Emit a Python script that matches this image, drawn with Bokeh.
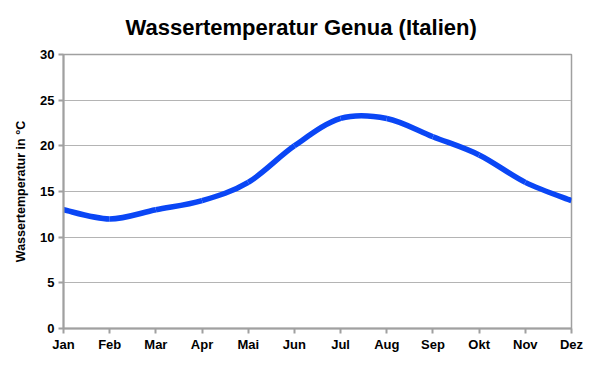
from bokeh.plotting import figure
from bokeh.models import Range1d, FixedTicker
from bokeh.embed import file_html
from bokeh.resources import INLINE

months = ["Jan", "Feb", "Mar", "Apr", "Mai", "Jun", "Jul", "Aug", "Sep", "Okt", "Nov", "Dez"]
temps = [13, 12, 13, 14, 16, 20, 23, 23, 21, 19, 16, 14]
y_ticks = [0, 5, 10, 15, 20, 25, 30]

xs = list(range(len(months)))

# smooth (Excel-like) curve through the data points as cubic Bezier segments
n = len(temps)
x0, y0, x1, y1, cx0, cy0, cx1, cy1 = [], [], [], [], [], [], [], []
t = 1.0 / 6.0
for i in range(n - 1):
    xp = xs[i - 1] if i > 0 else xs[i]
    yp = temps[i - 1] if i > 0 else temps[i]
    xn2 = xs[i + 2] if i + 2 < n else xs[i + 1]
    yn2 = temps[i + 2] if i + 2 < n else temps[i + 1]
    x0.append(xs[i]); y0.append(temps[i])
    x1.append(xs[i + 1]); y1.append(temps[i + 1])
    cx0.append(xs[i] + (xs[i + 1] - xp) * t)
    cy0.append(temps[i] + (temps[i + 1] - yp) * t)
    cx1.append(xs[i + 1] - (xn2 - xs[i]) * t)
    cy1.append(temps[i + 1] - (yn2 - temps[i]) * t)

p = figure(width=595, height=376, output_backend="svg", toolbar_location=None,
           x_range=Range1d(0, 11), y_range=Range1d(0, 30),
           min_border_left=63, min_border_right=24, min_border_top=0, min_border_bottom=48)

p.title.text = "Wassertemperatur Genua (Italien)"
p.title.align = "left"
p.title.vertical_align = "middle"
p.title.text_font = "Liberation Sans"
p.title.text_font_size = "22px"
p.title.text_font_style = "bold"
p.title.text_color = "#000000"
p.title.offset = 62
p.title.standoff = 27

p.bezier(x0=x0, y0=y0, x1=x1, y1=y1, cx0=cx0, cy0=cy0, cx1=cx1, cy1=cy1,
         line_color="#0a46f5", line_width=5.5)

p.xaxis.ticker = FixedTicker(ticks=xs)
p.xaxis.major_label_overrides = {i: m for i, m in enumerate(months)}
p.yaxis.ticker = FixedTicker(ticks=y_ticks)
p.yaxis.axis_label = "Wassertemperatur in °C"

for ax in (p.xaxis[0], p.yaxis[0]):
    ax.axis_line_color = "#a0a0a0"
    ax.axis_line_width = 2
    ax.major_tick_line_color = "#a0a0a0"
    ax.major_tick_line_width = 2
    ax.major_tick_out = 5
    ax.major_tick_in = 0
    ax.minor_tick_line_color = None
    ax.major_label_text_font = "Liberation Sans"
    ax.major_label_text_font_size = "13px"
    ax.major_label_text_font_style = "bold"
    ax.major_label_text_color = "#000000"
    ax.axis_label_text_font = "Liberation Sans"
    ax.axis_label_text_font_size = "12.5px"
    ax.axis_label_text_font_style = "bold"
    ax.axis_label_text_color = "#000000"

p.xaxis.major_label_standoff = 3
p.yaxis.major_label_standoff = 4
p.yaxis.axis_label_standoff = 9

p.xgrid.grid_line_color = None
p.ygrid.grid_line_color = "#b4b4b4"
p.ygrid.grid_line_width = 1

p.outline_line_color = "#a0a0a0"
p.outline_line_width = 1.5

open("out.html", "w").write(file_html(p, INLINE))
